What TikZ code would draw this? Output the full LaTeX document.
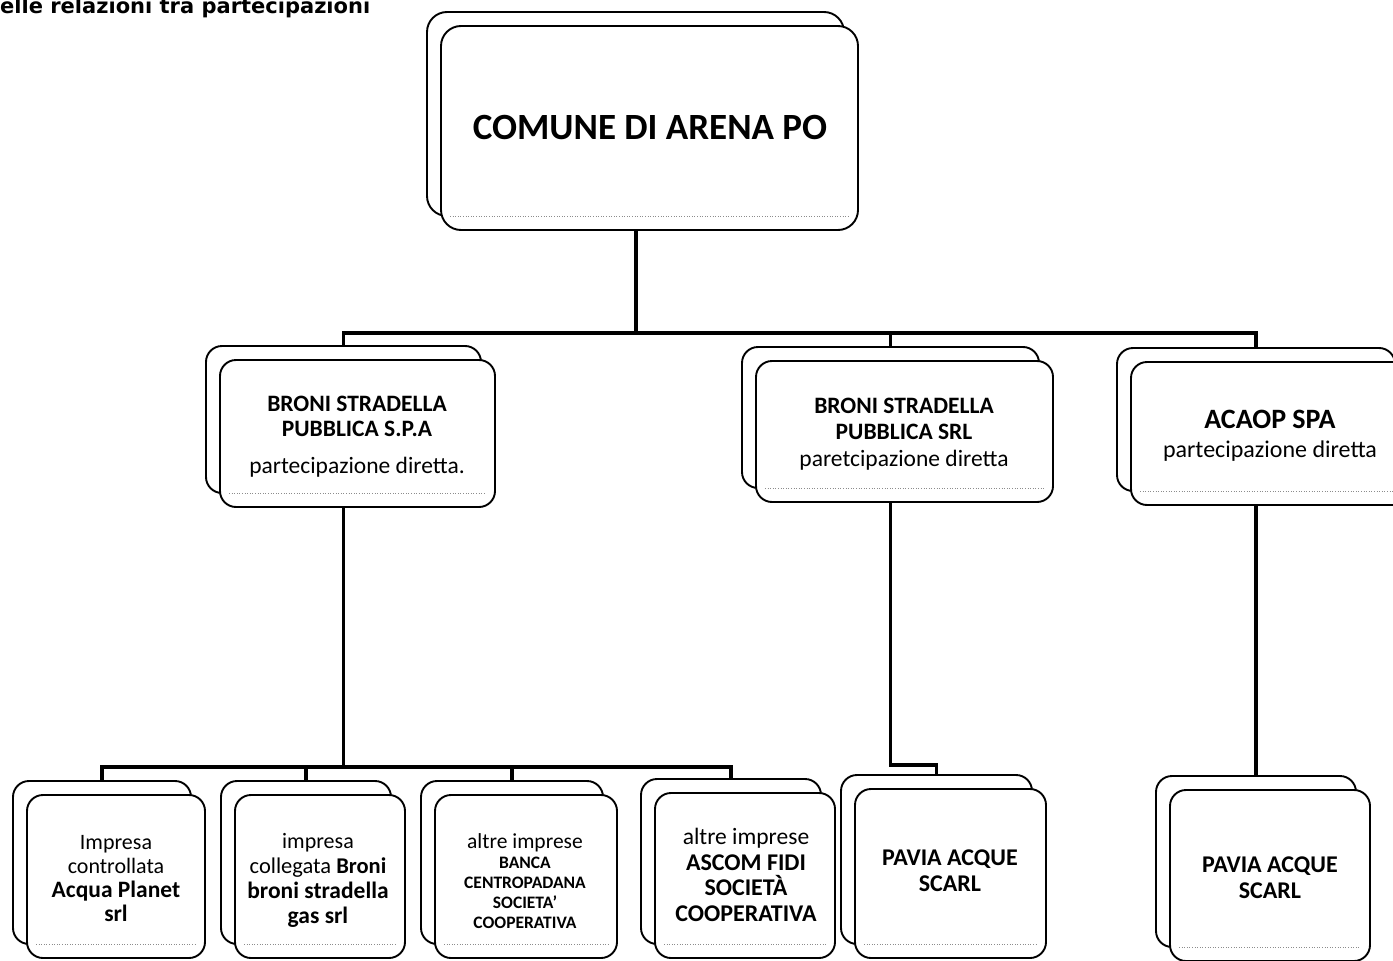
\documentclass[tikz,border=0pt]{standalone}
\usepackage{fontspec}
\setmainfont{Carlito}
\newfontfamily\titlefont{DejaVu Sans}
\newcommand\stackbox[6]{%
  \node[backbox, minimum width={(#4-#2)*1pt}, minimum height={(#5-#3)*1pt}, rounded corners=#6pt] (#1b) at ({(#2+#4)/2-14},{(#3+#5)/2-14}) {};
  \node[frontbox, minimum width={(#4-#2)*1pt}, minimum height={(#5-#3)*1pt}, rounded corners=#6pt] (#1) at ({(#2+#4)/2},{(#3+#5)/2}) {};
  \draw[shadeline] ([shift={(10,-15)}]#1.south west) -- ([shift={(-10,-15)}]#1.south east);
}
\begin{document}
\begin{tikzpicture}[x=1pt,y=-1pt,
  backbox/.style={draw=black, line width=1.9pt, fill=white, inner sep=0pt},
  frontbox/.style={draw=black, line width=1.9pt, fill=white, inner sep=0pt},
  shadeline/.style={draw=black!45, line width=0.6pt, dotted},
  link/.style={draw=black, line width=3.6pt},
  lbl/.style={align=center, inner sep=0pt, text=black}]
\useasboundingbox (0,0) rectangle (1393,961);
\fill[white] (0,0) rectangle (1393,961);

% title (cut at the top)
\node[anchor=base west, inner sep=0pt, font=\titlefont\bfseries\fontsize{21}{24}\selectfont] (title) at (0,13) {elle relazioni tra partecipazioni};

% boxes
\stackbox{top}{441}{26}{858}{230}{20}
\stackbox{ma}{220}{360}{495}{507}{16}
\stackbox{mb}{756}{361}{1053}{502}{16}
\stackbox{mc}{1131}{362}{1409}{505}{16}
\stackbox{ba}{27}{795}{205}{958}{16}
\stackbox{bb}{235}{795}{405}{958}{16}
\stackbox{bc}{435}{795}{617}{958}{16}
\stackbox{bd}{655}{793}{835}{958}{16}
\stackbox{be}{855}{789}{1046}{958}{16}
\stackbox{bf}{1170}{790}{1370}{961}{16}

% texts
\node[lbl, font=\bfseries\fontsize{37}{40}\selectfont] (ttop) at (650,128) {COMUNE DI ARENA PO};
\node[lbl, font=\fontsize{23.5}{25}\selectfont] (tma) at (357,437) {\textbf{BRONI STRADELLA}\\\textbf{PUBBLICA S.P.A}\\[12pt]partecipazione diretta.};
\node[lbl, font=\fontsize{23.5}{26.5}\selectfont] (tmb) at (904,434) {\textbf{BRONI STRADELLA}\\\textbf{PUBBLICA SRL}\\paretcipazione diretta};
\node[lbl, font=\fontsize{24}{29}\selectfont] (tmc) at (1270,436) {{\bfseries\fontsize{28}{29}\selectfont ACAOP SPA}\\partecipazione diretta};

\node[lbl, font=\fontsize{22}{24}\selectfont] (tba) at (116,879) {Impresa\\controllata\\{\bfseries\fontsize{23.5}{24}\selectfont Acqua Planet}\\{\bfseries\fontsize{23.5}{24}\selectfont srl}};
\node[lbl, font=\fontsize{22}{25}\selectfont] (tbb) at (318,880) {impresa\\{\fontsize{22.5}{25}\selectfont collegata \textbf{Broni}}\\{\bfseries\fontsize{23.5}{25}\selectfont broni stradella}\\{\bfseries\fontsize{23.5}{25}\selectfont gas srl}};
\node[lbl, font=\bfseries\fontsize{17.5}{20.2}\selectfont] (tbc) at (525,881) {{\mdseries\fontsize{21.5}{20.2}\selectfont altre imprese}\\BANCA\\CENTROPADANA\\SOCIETA'\\COOPERATIVA};
\node[lbl, font=\bfseries\fontsize{24}{25.5}\selectfont] (tbd) at (746,875) {{\mdseries\fontsize{23.5}{25.5}\selectfont altre imprese}\\ASCOM FIDI\\SOCIETÀ\\COOPERATIVA};
\node[lbl, font=\bfseries\fontsize{24}{26}\selectfont] (tbe) at (950,871) {PAVIA ACQUE\\SCARL};
\node[lbl, font=\bfseries\fontsize{24}{26}\selectfont] (tbf) at (1270,878) {PAVIA ACQUE\\SCARL};

% connectors
\coordinate (busA) at (636,333);
\coordinate (busB) at (341,767);
\coordinate (jog) at (0,765);
\draw[link] (busA |- top.south) -- (busA);
\draw[link] (mab.north) -- (mab.north |- busA) -- (mcb.north |- busA) -- (mcb.north);
\draw[link] (mbb.north |- busA) -- (mbb.north);
\draw[link] (ma.south -| mab.north) -- (mab.north |- busB);
\draw[link] (bab.north) -- (bab.north |- busB) -- (bdb.north |- busB) -- (bdb.north);
\draw[link] (bbb.north |- busB) -- (bbb.north);
\draw[link] (bcb.north |- busB) -- (bcb.north);
\draw[link] (mb.south -| mbb.north) -- (mbb.north |- jog) -| (beb.north);
\draw[link] (mc.south -| mcb.north) -- (mcb.north |- bfb.north);
\end{tikzpicture}
\end{document}
